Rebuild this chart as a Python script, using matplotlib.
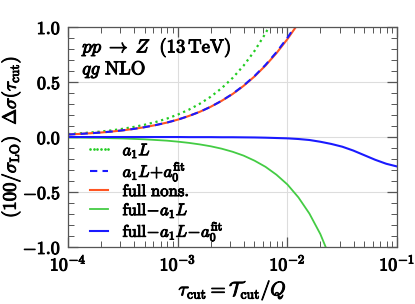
import numpy as np
import matplotlib
matplotlib.use('Agg')
import matplotlib.pyplot as plt
import matplotlib.patheffects as pe
from matplotlib.lines import Line2D
from matplotlib.ticker import FixedLocator

plt.rcParams['mathtext.fontset'] = 'cm'
plt.rcParams['font.family'] = 'serif'
plt.rcParams['font.serif'] = ['DejaVu Serif']

# log10(tau_cut) sample points
log_tau = [-4.0, -3.9, -3.8, -3.7, -3.6, -3.5, -3.4, -3.3, -3.2, -3.1,
           -3.0, -2.9, -2.8, -2.7, -2.6, -2.5, -2.4, -2.3, -2.2, -2.1,
           -2.0, -1.9, -1.8, -1.7, -1.6, -1.5, -1.4, -1.3, -1.2, -1.1, -1.0]

a1L = [0.027, 0.033, 0.041, 0.050, 0.061, 0.075, 0.092, 0.112, 0.137, 0.167,
       0.204, 0.248, 0.302, 0.366, 0.444, 0.537, 0.649, 0.783, 0.943, 1.133,
       1.358]

a1L_a0 = [0.023, 0.028, 0.034, 0.041, 0.050, 0.061, 0.074, 0.090, 0.109, 0.131,
          0.158, 0.191, 0.229, 0.275, 0.329, 0.393, 0.468, 0.555, 0.656, 0.772,
          0.903, 1.052]

full = [0.023, 0.028, 0.034, 0.041, 0.050, 0.061, 0.074, 0.090, 0.109, 0.131,
        0.158, 0.191, 0.229, 0.275, 0.329, 0.391, 0.465, 0.551, 0.650, 0.763,
        0.891, 1.034]

full_m_a1L = [-0.004, -0.005, -0.007, -0.008, -0.011, -0.013, -0.017, -0.021, -0.027, -0.033,
              -0.042, -0.053, -0.067, -0.084, -0.106, -0.134, -0.169, -0.215, -0.271, -0.343,
              -0.432, -0.549, -0.696, -0.883, -1.125]

full_m_a1L_a0 = [0.0, 0.0, 0.0, 0.0, 0.0, 0.0, 0.0, 0.0, 0.0, 0.0,
                 0.0, -0.001, -0.001, -0.001, -0.002, -0.002, -0.003, -0.004, -0.006, -0.009,
                 -0.012, -0.018, -0.027, -0.043, -0.063, -0.088, -0.123, -0.165, -0.207, -0.243, -0.268]

y_ticks = [-1.0, -0.5, 0.0, 0.5, 1.0]
x_ticks = [1e-4, 1e-3, 1e-2, 1e-1]

tau = 10.0 ** np.array(log_tau)
bold = [pe.withStroke(linewidth=0.7, foreground='black')]

c_dot = '#22cc22'
c_red = '#ff5522'
c_blue = '#1a1aff'
c_green = '#44cc44'

fig = plt.figure(figsize=(4.15, 3.04), dpi=100)
ax = fig.add_axes([0.164, 0.1875, 0.793, 0.7235])

ax.plot(tau[:len(a1L)], a1L, ls=':', lw=1.6, color=c_dot)
ax.plot(tau[:len(full)], full, color=c_red, lw=1.5)
ax.plot(tau[:len(a1L_a0)], a1L_a0, ls=(0, (3.5, 2.5)), lw=1.5, color=c_blue)
ax.plot(tau[:len(full_m_a1L)], full_m_a1L, color=c_green, lw=1.3)
ax.plot(tau, full_m_a1L_a0, color=c_blue, lw=1.5)

ax.set_xscale('log')
ax.set_xlim(1e-4, 1e-1)
ax.set_ylim(-1.0, 1.0)

ax.set_yticks(y_ticks, [r'$%.1f$' % v for v in y_ticks])
ax.yaxis.set_minor_locator(FixedLocator(np.arange(-1.0, 1.01, 0.1)))
ax.set_xticks(x_ticks, [r'$10^{%d}$' % int(round(np.log10(v))) for v in x_ticks])

ax.tick_params(which='both', direction='in', top=True, right=True,
               color='#555555', labelsize=13)
ax.tick_params(which='major', length=7, width=0.9, pad=5)
ax.tick_params(which='minor', length=4, width=0.7)
for s in ax.spines.values():
    s.set_color('#555555')
    s.set_linewidth(0.9)

ax.grid(True, which='major', color='#dddddd', lw=0.8)
ax.set_axisbelow(True)

ax.set_xlabel(r'$\tau_{\rm cut} = \mathcal{T}_{\rm cut}/Q$', fontsize=14, labelpad=2)
ax.set_ylabel(r'$(100/\sigma_{\rm LO})\ \ \Delta\sigma(\tau_{\rm cut})$', fontsize=13.5, labelpad=0)

t1 = ax.text(0.043, 0.885, r'$pp\;\to\;Z\ \ (13\,\mathrm{TeV})$', transform=ax.transAxes,
             fontsize=13.5, va='baseline')
t2 = ax.text(0.043, 0.785, r'$qg\ \mathrm{NLO}$', transform=ax.transAxes,
             fontsize=13.5, va='baseline')

# legend proxies matching the plotted lines (dotted one drawn as a row of dots)
handles = [Line2D([], [], ls='none', marker='o', ms=1.9, mew=0, color=c_dot),
           Line2D([], [], ls=(0, (3.5, 2.5)), lw=1.5, color=c_blue),
           Line2D([], [], lw=1.5, color=c_red),
           Line2D([], [], lw=1.3, color=c_green),
           Line2D([], [], lw=1.5, color=c_blue)]
labels = [r'$a_1 L$', r'$a_1 L\!+\!a_0^{\rm fit}$', r'$\mathrm{full\ nons.}$',
          r'$\mathrm{full}\!-\!a_1 L$', r'$\mathrm{full}\!-\!a_1 L\!-\!a_0^{\rm fit}$']
leg = ax.legend(handles, labels, loc='lower left', bbox_to_anchor=(0.006, -0.05),
                frameon=False, fontsize=12, handlelength=1.7, handletextpad=0.55,
                labelspacing=0.0, borderaxespad=0.5, numpoints=6)

texts = [t1, t2, ax.xaxis.label, ax.yaxis.label] + leg.get_texts() \
    + ax.get_xticklabels() + ax.get_yticklabels()
for t in texts:
    t.set_path_effects(bold)

fig.savefig('out.png', dpi=100)
